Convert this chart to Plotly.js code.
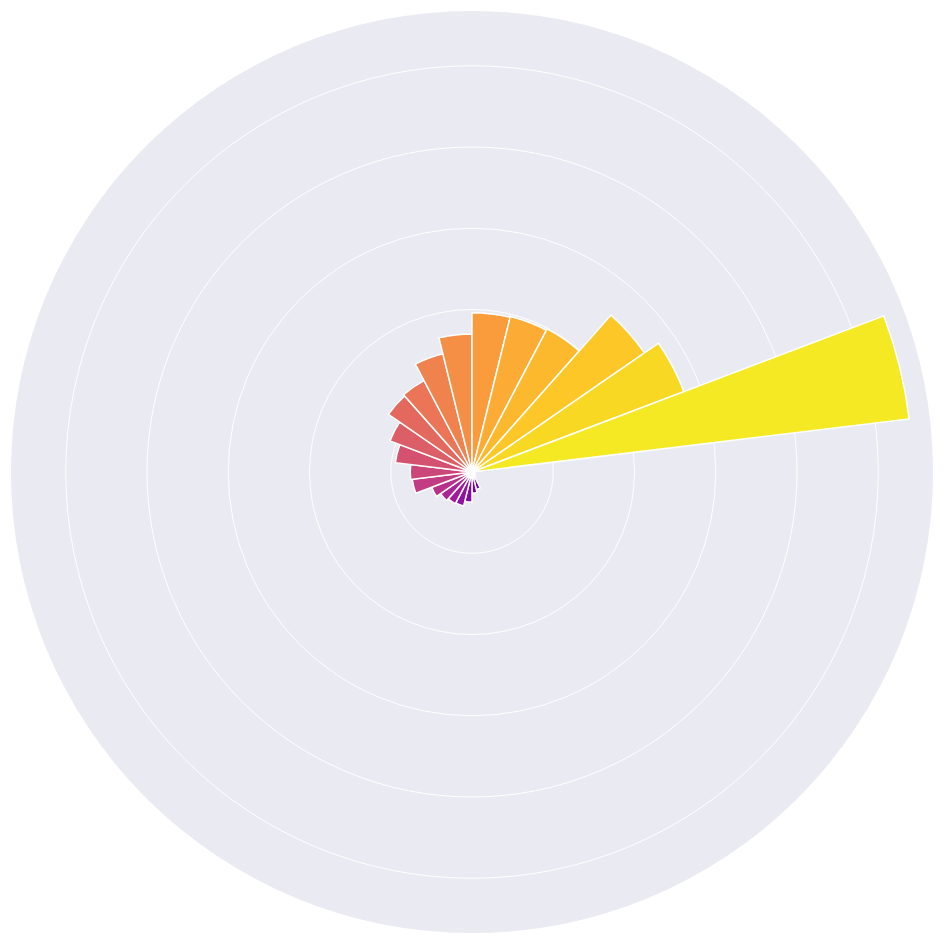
<!DOCTYPE html>
<html>
<head>
<meta charset="utf-8">
<script src="https://cdn.plot.ly/plotly-3.0.1.min.js"></script>
<style>html,body{margin:0;padding:0;background:#fff;}#chart{width:944px;height:944px;}</style>
</head>
<body>
<div id="chart"></div>
<script>
// Categories (26 sectors, clockwise from east)
const categories = ["A","B","C","D","E","F","G","H","I","J","K","L","M","N","O","P","Q","R","S","T","U","V","W","X","Y","Z"];
// Radial values (sorted ascending)
const values = [0.2, 0.3, 0.4, 0.5, 0.6, 2.2, 2.6, 3.7, 4.3, 4.4, 4.7, 5.3, 7.4, 7.6, 9.5, 10.8, 12.5, 12.7, 15.0, 17.0, 19.6, 19.7, 19.9, 25.8, 27.9, 54.2];
// Colour index per sector
const colorIndex = [0,1,2,3,4,5,6,7,8,9,10,11,12,13,14,15,16,17,18,19,20,21,22,23,24,25];
const radialTicks = [0, 10, 20, 30, 40, 50];
const plasmaColors = ['#0d0887','#46039f','#7201a8','#9c179e','#bd3786','#d8576b','#ed7953','#fb9f3a','#fdca26','#f0f921'];

const plasma = plasmaColors.map((c, i) => [i / (plasmaColors.length - 1), c]);

const trace = {
  type: 'barpolar',
  r: values,
  theta: categories,
  marker: {
    color: colorIndex,
    colorscale: plasma,
    cmin: 0,
    cmax: colorIndex.length,
    showscale: false,
    line: {color: '#ffffff', width: 1.5}
  },
  hoverinfo: 'r+theta'
};

const layout = {
  width: 944,
  height: 944,
  margin: {l: 11, r: 11, t: 11, b: 11},
  paper_bgcolor: '#ffffff',
  showlegend: false,
  polar: {
    bgcolor: 'rgb(234,234,242)',
    bargap: 0,
    domain: {x: [0, 1], y: [0, 1]},
    radialaxis: {
      range: [0, 56.74],
      tickvals: radialTicks,
      showticklabels: false,
      ticks: '',
      showline: false,
      gridcolor: '#ffffff',
      gridwidth: 1
    },
    angularaxis: {
      type: 'category',
      categoryarray: categories,
      direction: 'clockwise',
      rotation: 0,
      showticklabels: false,
      ticks: '',
      showgrid: false,
      showline: false
    }
  }
};

Plotly.newPlot('chart', [trace], layout, {displayModeBar: false, staticPlot: true});
</script>
</body>
</html>
